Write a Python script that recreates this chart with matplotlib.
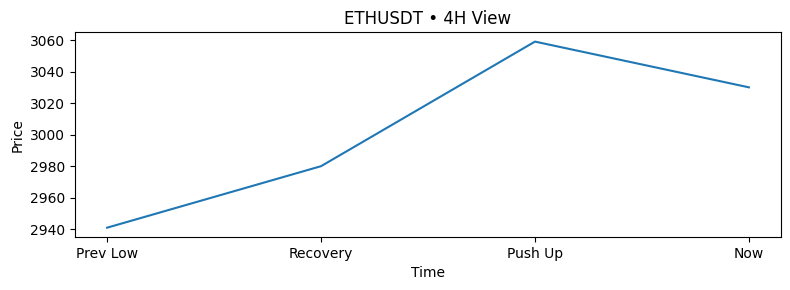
import matplotlib
matplotlib.use("Agg")
import matplotlib.pyplot as plt
from matplotlib.ticker import MultipleLocator

labels = ["Prev Low", "Recovery", "Push Up", "Now"]
prices = [2941, 2980, 3059, 3030]

fig, ax = plt.subplots(figsize=(7.9, 2.9), dpi=100)
ax.plot(labels, prices, color="#1f77b4")
ax.yaxis.set_major_locator(MultipleLocator(20))
ax.set_title("ETHUSDT • 4H View")
ax.set_xlabel("Time")
ax.set_ylabel("Price")
fig.subplots_adjust(left=75/790, right=781/790, top=1-32.3/290, bottom=1-237/290)
fig.savefig("out.png")
